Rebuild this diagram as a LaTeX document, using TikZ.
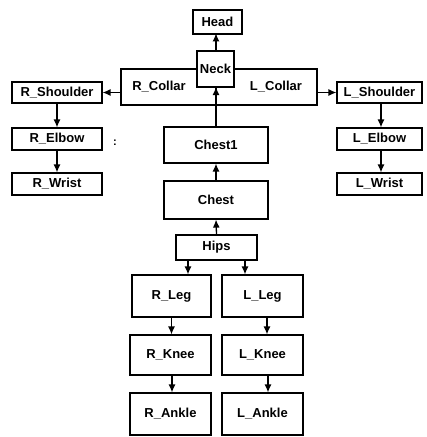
\documentclass[tikz,border=0pt]{standalone}
\usepackage{fontspec}
\setmainfont{Liberation Sans}
\usetikzlibrary{arrows.meta}
\tikzset{
  bone/.style={draw, line width=1.2pt, rectangle, inner sep=0pt, fill=white,
    font=\fontsize{13}{15}\selectfont\bfseries},
  link/.style={draw, line width=1.3pt, -{Latex[length=8pt,width=7pt]}}
}
\begin{document}
\begin{tikzpicture}[x=1pt,y=-1pt]
\useasboundingbox (0,0) rectangle (427,437);
% collars (drawn under Neck)
\node[bone, minimum width=95pt, minimum height=36pt] (rcollar) at (168.5,87) {R\_Collar\hspace*{19pt}};
\node[bone, minimum width=101pt, minimum height=36pt] (lcollar) at (266.5,87) {\hspace*{19pt}L\_Collar};
\node[bone, minimum width=49pt, minimum height=24pt] (head) at (217.5,22) {Head};
% spine
\node[bone, minimum width=104pt, minimum height=36pt] (chest1) at (216,145) {Chest1};
\node[bone, minimum width=104pt, minimum height=38pt] (chest) at (216,200) {Chest};
\node[bone, minimum width=81pt, minimum height=25pt] (hips) at (216.5,247.5) {Hips};
\draw[link] (chest1.north) -- (216,87);
\node[bone, minimum width=37pt, minimum height=36pt] (neck) at (215.5,69) {Neck};
% arms
\node[bone, minimum width=90pt, minimum height=21pt] (rshoulder) at (57,92.5) {R\_Shoulder};
\node[bone, minimum width=90pt, minimum height=22pt] (relbow) at (57,139) {R\_Elbow};
\node[bone, minimum width=90pt, minimum height=22pt] (rwrist) at (57,184) {R\_Wrist};
\node[bone, minimum width=85pt, minimum height=21pt] (lshoulder) at (379.5,92.5) {L\_Shoulder};
\node[bone, minimum width=85pt, minimum height=22pt] (lelbow) at (379.5,139) {L\_Elbow};
\node[bone, minimum width=85pt, minimum height=22pt] (lwrist) at (379.5,184) {L\_Wrist};
\node[font=\fontsize{11}{12}\selectfont\bfseries] (mark) at (115,143) {:};
% legs
\node[bone, minimum width=79pt, minimum height=42pt] (rleg) at (171.5,296) {R\_Leg};
\node[bone, minimum width=81pt, minimum height=40pt] (rknee) at (170.5,355) {R\_Knee};
\node[bone, minimum width=81pt, minimum height=42pt] (rankle) at (170.5,414) {R\_Ankle};
\node[bone, minimum width=81pt, minimum height=42pt] (lleg) at (262.5,296) {L\_Leg};
\node[bone, minimum width=81pt, minimum height=40pt] (lknee) at (262.5,355) {L\_Knee};
\node[bone, minimum width=81pt, minimum height=42pt] (lankle) at (262.5,414) {L\_Ankle};
% connectors
\draw[link] (neck.north -| head.south) ++(-1.5,0) -- ++(0,-17);
\draw[link] (chest.north) -- (chest1.south);
\draw[link] (hips.north) -- (chest.south);
\draw[link] (rcollar.west |- rshoulder.east) -- (rshoulder.east);
\draw[link] (lcollar.east |- lshoulder.west) -- (lshoulder.west);
\draw[link] (rshoulder.south) -- (relbow.north);
\draw[link] (relbow.south) -- (rwrist.north);
\draw[link] ([xshift=1.5pt]lshoulder.south) -- ([xshift=1.5pt]lelbow.north);
\draw[link] ([xshift=1.5pt]lelbow.south) -- ([xshift=1.5pt]lwrist.north);
\draw[link] ([xshift=-28.5pt]hips.south) -- ([xshift=-28.5pt]hips.south |- rleg.north);
\draw[link] ([xshift=28.5pt]hips.south) -- ([xshift=28.5pt]hips.south |- lleg.north);
\draw[link] (rleg.south) -- (rknee.north -| rleg.south);
\draw[link] ([xshift=1.5pt]rknee.south) -- ([xshift=1.5pt]rankle.north);
\draw[link] ([xshift=4.5pt]lleg.south) -- ([xshift=4.5pt]lknee.north);
\draw[link] ([xshift=5.5pt]lknee.south) -- ([xshift=5.5pt]lankle.north);
\end{tikzpicture}
\end{document}
